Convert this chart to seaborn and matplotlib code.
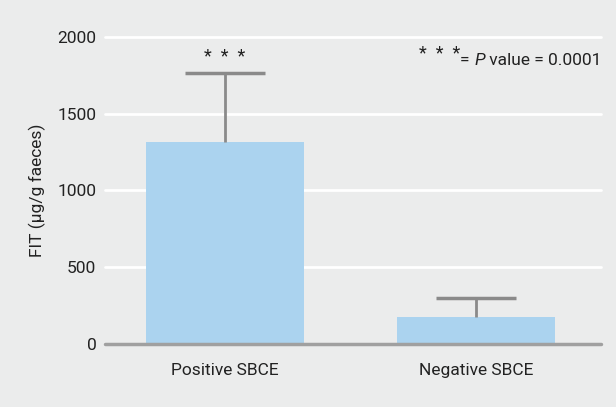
import matplotlib
matplotlib.use("Agg")
import matplotlib.pyplot as plt
import seaborn as sns
import numpy as np

groups = ["Positive SBCE", "Negative SBCE"]
means = [1318, 175]
errs = [448, 124]
yticks = [0, 500, 1000, 1500, 2000]

bg = "#ebecec"
bar_col = "#abd3ef"
err_col = "#8a8a8a"
txt_col = "#222222"

sns.set_theme(style="white")
plt.rcParams["font.family"] = ["Roboto", "DejaVu Sans"]

fig = plt.figure(figsize=(6.16, 4.07), dpi=100, facecolor=bg)
ax = fig.add_axes([0.170, 0.155, 0.806, 0.754], facecolor=bg)

sns.barplot(x=groups, y=means, color=bar_col, width=0.63, saturation=1,
            linewidth=0, ax=ax, zorder=2)

# upper-only error bars
xs = np.arange(len(groups))
tops = np.array(means) + np.array(errs)
ax.vlines(xs, means, tops, color=err_col, lw=2, zorder=3)
ax.hlines(tops, xs - 0.16, xs + 0.16, color=err_col, lw=2.5, zorder=3)

ax.set_ylim(0, 2000)
ax.set_xlim(-0.48, 1.5)
ax.set_yticks(yticks)
for t in yticks[1:]:
    ax.axhline(t, color="white", lw=2, zorder=1, clip_on=False)
ax.axhline(0, color="#a0a0a0", lw=2.5, zorder=4, clip_on=False)

for s in ax.spines.values():
    s.set_visible(False)
ax.tick_params(axis="both", length=0, labelsize=12.5, colors=txt_col, pad=6)
ax.tick_params(axis="x", pad=14)
ax.set_xlabel("")
ax.set_ylabel("FIT (µg/g faeces)", fontsize=12.5, color=txt_col, labelpad=8)

# significance stars above first bar
ax.text(0, tops[0] + 45, "*  *  *", ha="center", va="bottom",
        fontsize=13, color=txt_col)

# note, built right to left
t1 = ax.text(1.5, 1845, " value = 0.0001", ha="right", va="center",
             fontsize=12.5, color=txt_col)
t2 = ax.annotate("P", xy=(0, 0), xycoords=t1, ha="right", va="bottom",
                 fontsize=12.5, style="italic", color=txt_col)
t3 = ax.annotate("= ", xy=(0, 0), xycoords=t2, ha="right", va="bottom",
                 fontsize=12.5, color=txt_col)
ax.annotate("*  *  *", xy=(0, 0.35), xycoords=t3, ha="right", va="bottom",
            fontsize=13, color=txt_col)

fig.savefig("out.png", dpi=100, facecolor=bg)
